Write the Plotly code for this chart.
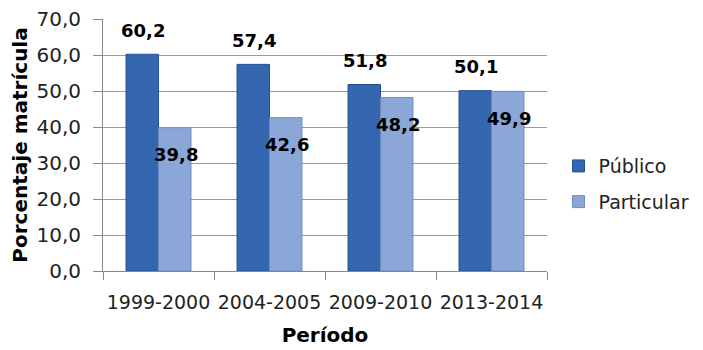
import plotly.graph_objects as go

periodos = ["1999-2000", "2004-2005", "2009-2010", "2013-2014"]
publico = [60.2, 57.4, 51.8, 50.1]
particular = [39.8, 42.6, 48.2, 49.9]
y_ticks = [0, 10, 20, 30, 40, 50, 60, 70]

FONT = "DejaVu Sans"
C_PUB = "#3566B0"
C_PAR = "#8AA7D7"

fig = go.Figure()
fig.add_trace(go.Bar(x=periodos, y=publico, name="Público", legendgroup="a",
                     marker=dict(color=C_PUB, line=dict(color="#24508F", width=1))))
fig.add_trace(go.Bar(x=periodos, y=particular, name="Particular", legendgroup="b",
                     marker=dict(color=C_PAR, line=dict(color="#6D8CBF", width=1))))

def fmt(v):
    return f"<b>{v:.1f}</b>".replace(".", ",")

ann = []
for p, v in zip(periodos, publico):
    ann.append(dict(x=p, y=v, text=fmt(v), showarrow=False, xshift=-16, yshift=24,
                    font=dict(family=FONT, size=18, color="#000"), xref="x", yref="y"))
for p, v in zip(periodos, particular):
    ann.append(dict(x=p, y=v, text=fmt(v), showarrow=False, xshift=17, yshift=-27,
                    font=dict(family=FONT, size=18, color="#000"), xref="x", yref="y"))

fig.update_layout(
    width=695, height=342,
    margin=dict(l=95, r=156, t=11, b=79, autoexpand=False),
    paper_bgcolor="white", plot_bgcolor="white",
    separators=",.",
    barmode="group", bargap=0.415, bargroupgap=0,
    font=dict(family=FONT, size=20, color="#222"),
    annotations=ann,
    legend=dict(x=1.026, y=0.345, xanchor="left", yanchor="middle",
                font=dict(family=FONT, size=19, color="#222"),
                tracegroupgap=8, itemwidth=30, bgcolor="rgba(0,0,0,0)"),
    showlegend=True,
)
fig.update_xaxes(
    showline=True, linecolor="#888", linewidth=1,
    ticks="outside", ticklen=8, tickcolor="#888", tickson="boundaries",
    ticklabelstandoff=14, tickangle=0, automargin=False,
    tickfont=dict(family=FONT, size=19, color="#222"),
    title=dict(text="<b>Período</b>", font=dict(family=FONT, size=20, color="#000"), standoff=16),
    showgrid=False,
)
fig.update_yaxes(
    range=[0, 70], tickvals=y_ticks, tickformat=".1f", automargin=False,
    showline=True, linecolor="#888", linewidth=1,
    ticks="outside", ticklen=9, tickcolor="#888", ticklabelstandoff=8,
    ticklabeloverflow="allow",
    showgrid=True, gridcolor="#9A9A9A", gridwidth=1,
    tickfont=dict(family=FONT, size=20, color="#222"),
    title=dict(text="<b>Porcentaje matrícula</b>", font=dict(family=FONT, size=20, color="#000"), standoff=19),
    zeroline=False,
)

fig.write_html("out.html")
